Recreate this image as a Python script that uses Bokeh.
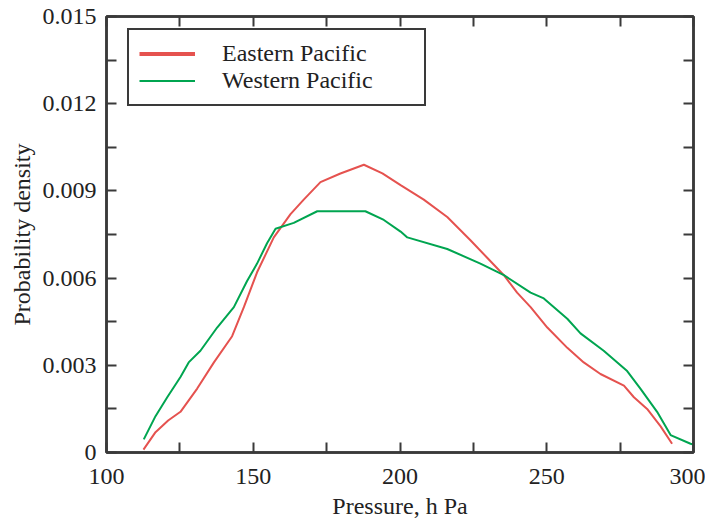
from bokeh.plotting import figure
from bokeh.models import (Range1d, FixedTicker, LinearAxis, Legend, LegendItem,
                          CustomJSTickFormatter)
from bokeh.embed import file_html
from bokeh.resources import INLINE

# ---- data ----
east_p = [112.6, 116.7, 121.0, 125.2, 130.9, 136.6, 142.8, 146.8, 151.3, 157.0,
          162.7, 167.2, 172.9, 179.7, 187.7, 194.0, 200.2, 208.1, 216.1, 224.0,
          229.7, 235.4, 239.9, 244.5, 250.2, 257.0, 262.6, 268.3, 276.3, 279.7,
          284.2, 288.8, 292.7]
east_d = [0.0001, 0.0007, 0.0011, 0.0014, 0.0022, 0.0031, 0.0040, 0.0050, 0.0062, 0.0074,
          0.0082, 0.0087, 0.0093, 0.0096, 0.0099, 0.0096, 0.0092, 0.0087, 0.0081, 0.0073,
          0.0067, 0.0061, 0.0055, 0.0050, 0.0043, 0.0036, 0.0031, 0.0027, 0.0023, 0.0019,
          0.0015, 0.0009, 0.0003]

west_p = [112.7, 116.7, 120.7, 125.2, 128.0, 132.0, 137.7, 143.4, 147.9, 151.3,
          154.7, 157.6, 163.8, 171.8, 188.2, 194.5, 200.2, 202.5, 216.1, 227.4,
          235.4, 244.5, 249.0, 257.0, 261.5, 269.4, 277.4, 281.9, 287.6, 292.2,
          299.0, 300.0]
west_d = [0.00045, 0.00125, 0.0019, 0.0026, 0.0031, 0.0035, 0.0043, 0.0050, 0.0059, 0.0065,
          0.0072, 0.0077, 0.0079, 0.0083, 0.0083, 0.0080, 0.0076, 0.0074, 0.0070, 0.0065,
          0.0061, 0.0055, 0.0053, 0.0046, 0.0041, 0.0035, 0.0028, 0.0022, 0.0014, 0.0006,
          0.0003, 0.00027]

x_ticks = [100, 150, 200, 250, 300]
x_minor = [125, 175, 225, 275]
y_ticks = [0, 0.003, 0.006, 0.009, 0.012, 0.015]
y_minor = [0.0015, 0.0045, 0.0075, 0.0105, 0.0135]

series_names = ["Eastern Pacific", "Western Pacific"]
RED = "#e5524f"
GREEN = "#00a550"
AX = "#3a3a3a"
TXT = "#222222"
FONT = "Liberation Serif"
FS = "24px"

p = figure(width=705, height=521, output_backend="svg", toolbar_location=None,
           x_range=Range1d(100, 300), y_range=Range1d(0, 0.015),
           min_border_left=106, min_border_right=12, min_border_top=16, min_border_bottom=68)
p.grid.visible = False
p.outline_line_color = AX
p.outline_line_width = 2.5

east = p.line(east_p, east_d, line_color=RED, line_width=2)
west = p.line(west_p, west_d, line_color=GREEN, line_width=2)
# thicker legend sample for the Eastern series (not drawn in the plot itself)
east_leg = p.line(east_p, east_d, line_color=RED, line_width=4, visible=False)

def style_axis(ax, ticks, minor, labels=True):
    ax.ticker = FixedTicker(ticks=ticks, minor_ticks=minor)
    ax.axis_line_color = AX
    ax.axis_line_width = 2.5
    ax.major_tick_line_color = AX
    ax.minor_tick_line_color = AX
    ax.major_tick_line_width = 2
    ax.minor_tick_line_width = 2
    ax.major_tick_in = 10
    ax.major_tick_out = 0
    ax.minor_tick_in = 10
    ax.minor_tick_out = 0
    ax.major_label_text_font = FONT
    ax.major_label_text_color = TXT
    ax.axis_label_text_font = FONT
    ax.axis_label_text_font_style = "normal"
    ax.axis_label_text_color = TXT
    ax.major_label_text_font_size = FS
    ax.axis_label_text_font_size = FS
    if not labels:
        ax.formatter = CustomJSTickFormatter(code="return '';")
        ax.major_label_standoff = 0

xa = p.xaxis[0]
ya = p.yaxis[0]
style_axis(xa, x_ticks, x_minor)
style_axis(ya, y_ticks, y_minor)
xa.axis_label = "Pressure, h Pa"
ya.axis_label = "Probability density"
xa.major_label_standoff = 16
ya.major_label_standoff = 10
xa.axis_label_standoff = 6
ya.axis_label_standoff = 5
ya.formatter = CustomJSTickFormatter(code="return tick === 0 ? '0' : tick.toFixed(3);")

top = LinearAxis()
right = LinearAxis()
style_axis(top, x_ticks, x_minor, labels=False)
style_axis(right, y_ticks, y_minor, labels=False)
p.add_layout(top, "above")
p.add_layout(right, "right")

legend = Legend(items=[LegendItem(label=series_names[0], renderers=[east_leg]),
                       LegendItem(label=series_names[1], renderers=[west])],
                location=(21, 346))
legend.label_text_font = FONT
legend.label_text_font_size = FS
legend.label_text_color = TXT
legend.border_line_color = AX
legend.border_line_alpha = 1.0
legend.border_line_width = 2
legend.background_fill_alpha = 1.0
legend.padding = 10
legend.spacing = 0
legend.glyph_width = 56
legend.glyph_height = 27
legend.label_height = 27
legend.label_standoff = 27
legend.label_width = 192
legend.margin = 0
legend.inactive_fill_alpha = 0
p.add_layout(legend, "center")

open("out.html", "w").write(file_html(p, INLINE))
